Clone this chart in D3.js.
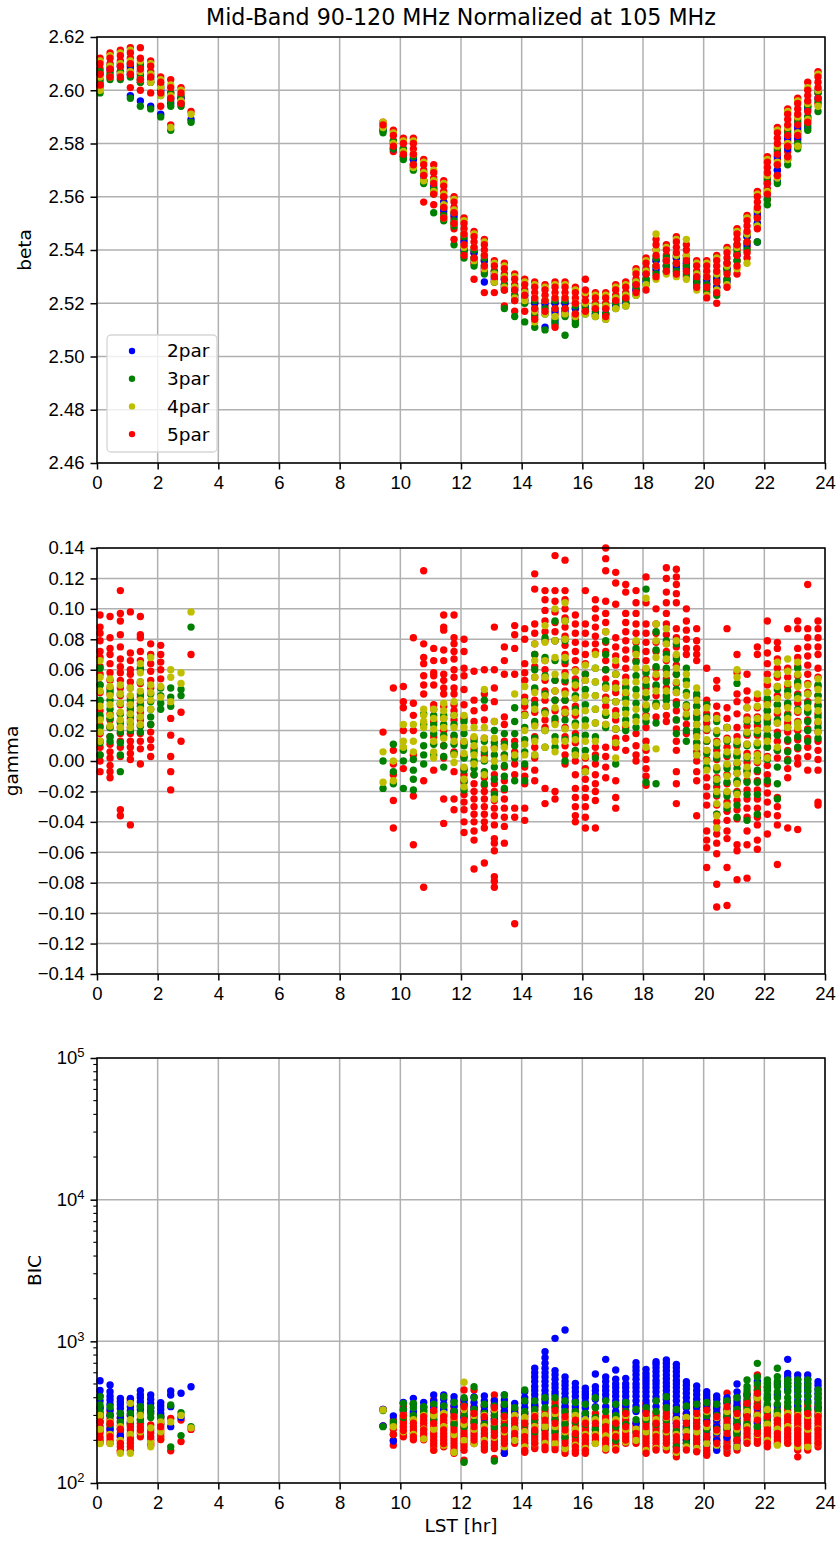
<!DOCTYPE html>
<html lang="en">
<head>
    <meta charset="UTF-8">
    <title>Mid-Band 90-120 MHz Normalized at 105 MHz</title>
    <script src="https://d3js.org/d3.v7.min.js"></script>
    <style>
        body { margin: 0; background: #fff; }
        svg { font-family: "DejaVu Sans", sans-serif; }
        .tick text { font-size: 18.5px; fill: #000; }
        .tick line { stroke: #000; stroke-width: 1.5px; }
        .grid line { stroke: #b0b0b0; stroke-width: 1.5px; }
    </style>
</head>
<body>
<svg id="chart" width="839" height="1547"></svg>
<script>
// LST of each column of points (hr)
const lst = [0.10,0.43,0.77,1.10,1.43,1.77,2.10,2.43,2.77,3.10,
    9.43,9.77,10.10,10.43,10.77,11.10,11.43,11.77,12.10,12.43,12.77,13.10,13.43,13.77,
    14.10,14.43,14.77,15.10,15.43,15.77,16.10,16.43,16.77,17.10,17.43,17.77,18.10,18.43,
    18.77,19.10,19.43,19.77,20.10,20.43,20.77,21.10,21.43,21.77,22.10,22.43,22.77,23.10,23.43,23.77];

const seriesNames = ["2par", "3par", "4par", "5par"];
const xTicks = [0, 2, 4, 6, 8, 10, 12, 14, 16, 18, 20, 22, 24];
const betaTicks = [2.46, 2.48, 2.50, 2.52, 2.54, 2.56, 2.58, 2.60, 2.62];
const gammaTicks = [-0.14, -0.12, -0.10, -0.08, -0.06, -0.04, -0.02, 0.00, 0.02, 0.04, 0.06, 0.08, 0.10, 0.12, 0.14];
const bicTicks = [1e2, 1e3, 1e4, 1e5];

// beta, one list per column
const betaB = [[2.606,2.602],[2.608,2.605],[2.609,2.606],[2.609,2.606,2.598],[2.607,2.604,2.596],[2.605,2.594],[2.600,2.591],[2.597,2.595],[2.597,2.595],[2.589],
    [2.585],[2.580,2.578],[2.577,2.575],[2.574,2.571],[2.568,2.566],[2.564,2.562],[2.558,2.555],[2.553,2.550],[2.543,2.540],[2.539,2.536],
    [2.536,2.533,2.528],[2.531,2.529],[2.529,2.526],[2.525,2.522],[2.523,2.521],[2.520,2.517],[2.520,2.511],[2.520,2.517,2.513],[2.520,2.517],[2.518,2.515],
    [2.519,2.517],[2.518,2.516],[2.518,2.516],[2.521,2.519],[2.522,2.520],[2.527,2.525],[2.531,2.528],[2.536,2.533],[2.536,2.534],[2.537,2.534],
    [2.535,2.533],[2.530,2.528],[2.529,2.527],[2.529,2.526],[2.533,2.528],[2.541,2.538],[2.545,2.542],[2.553,2.550,2.543],[2.565,2.561],[2.575,2.570,2.566],
    [2.582,2.578,2.574],[2.586,2.582,2.579],[2.593,2.589,2.586],[2.600,2.597]];
const betaG = [[2.607,2.603,2.599],[2.609,2.606,2.604],[2.610,2.607,2.604],[2.610,2.607,2.605,2.597],[2.609,2.605,2.603,2.594],[2.606,2.604,2.603,2.593],[2.602,2.599,2.598,2.590],[2.599,2.596,2.594,2.585],[2.598,2.595,2.594],[2.588],
    [2.585,2.584],[2.581,2.578],[2.578,2.575,2.574],[2.575,2.572,2.570],[2.569,2.566,2.565],[2.566,2.563,2.561,2.554],[2.560,2.556,2.553,2.551],[2.554,2.551,2.549,2.542],[2.545,2.541,2.539,2.537],[2.540,2.537,2.534],
    [2.537,2.534,2.531],[2.532,2.530,2.528],[2.530,2.527,2.525,2.518],[2.526,2.523,2.521,2.515],[2.524,2.522,2.520,2.513],[2.521,2.518,2.515,2.511],[2.521,2.518,2.516,2.510],[2.521,2.518,2.514,2.512],[2.521,2.518,2.515,2.508],[2.519,2.516,2.513,2.512],
    [2.520,2.518,2.516],[2.519,2.517,2.515],[2.519,2.516,2.514],[2.522,2.520,2.518],[2.523,2.521,2.519],[2.528,2.526,2.523],[2.532,2.529,2.527],[2.537,2.534,2.531],[2.537,2.534,2.532],[2.538,2.535,2.532],
    [2.537,2.534,2.531],[2.531,2.529,2.527],[2.530,2.527,2.525],[2.531,2.528,2.523],[2.535,2.532,2.529],[2.542,2.539,2.536],[2.546,2.543,2.540],[2.555,2.552,2.549,2.543],[2.566,2.562,2.559,2.557],[2.577,2.572,2.568,2.565],
    [2.584,2.579,2.575,2.572],[2.588,2.584,2.580,2.578],[2.594,2.590,2.587,2.585],[2.599,2.596,2.592]];
const betaY = [[2.611,2.605,2.600],[2.613,2.609,2.605],[2.614,2.610,2.606],[2.615,2.611,2.607],[2.611,2.607,2.604],[2.610,2.606,2.603],[2.604,2.601,2.598],[2.602,2.598,2.586],[2.600,2.596],[2.591],
    [2.588,2.586],[2.584,2.580],[2.581,2.577],[2.581,2.576,2.571],[2.573,2.569,2.566],[2.570,2.566,2.562],[2.565,2.561,2.557,2.552],[2.559,2.555,2.550],[2.551,2.546,2.541],[2.546,2.541,2.536],
    [2.543,2.538,2.533],[2.535,2.531,2.528],[2.534,2.530,2.526],[2.530,2.526,2.522],[2.528,2.524,2.521],[2.527,2.522,2.517,2.513],[2.526,2.521,2.516],[2.527,2.522,2.515],[2.527,2.522,2.516],[2.525,2.520,2.515],
    [2.524,2.520,2.516],[2.523,2.519,2.515],[2.523,2.519,2.514],[2.526,2.522,2.518],[2.527,2.523,2.519],[2.532,2.528,2.523],[2.536,2.532,2.527],[2.546,2.540,2.534,2.529],[2.541,2.536,2.531],[2.544,2.538,2.530],
    [2.544,2.538,2.529],[2.535,2.531,2.525],[2.535,2.530,2.523],[2.537,2.531,2.525],[2.540,2.534,2.527],[2.547,2.541,2.533],[2.552,2.546,2.535],[2.561,2.555,2.549],[2.574,2.568,2.562],[2.585,2.579,2.573,2.567],
    [2.592,2.586,2.580,2.574],[2.596,2.590,2.584,2.579],[2.601,2.595,2.589],[2.606,2.600,2.594]];
const betaR = [[2.612,2.610,2.608,2.606,2.604,2.602,2.601],[2.614,2.612,2.610,2.608,2.607,2.605],[2.615,2.613,2.611,2.609,2.607,2.605],[2.616,2.614,2.612,2.610,2.608,2.606,2.601],[2.616,2.612,2.610,2.608,2.606,2.604,2.603,2.600],
    [2.611,2.609,2.607,2.605,2.603,2.599],[2.605,2.603,2.601,2.599,2.594],[2.604,2.601,2.599,2.597,2.587],[2.601,2.599,2.597,2.595],[2.592],
    [2.588,2.587,2.586],[2.585,2.583,2.581,2.579,2.577],[2.582,2.580,2.578,2.576],[2.582,2.580,2.578,2.576,2.574,2.572],[2.574,2.572,2.570,2.568,2.566,2.558],
    [2.572,2.569,2.567,2.565,2.563,2.561,2.557],[2.566,2.564,2.562,2.560,2.558,2.556,2.554,2.552],[2.560,2.558,2.556,2.554,2.552,2.550,2.548,2.544],[2.552,2.550,2.548,2.546,2.544,2.542,2.540,2.538],[2.547,2.545,2.543,2.541,2.539,2.537,2.535,2.529],
    [2.544,2.542,2.540,2.538,2.536,2.534,2.532,2.524],[2.536,2.534,2.532,2.530,2.528,2.524],[2.535,2.533,2.531,2.529,2.527,2.525,2.519],[2.531,2.529,2.527,2.525,2.523,2.521,2.517],[2.529,2.527,2.525,2.523,2.521,2.517],
    [2.528,2.526,2.524,2.522,2.520,2.518,2.516,2.514],[2.527,2.525,2.523,2.521,2.519,2.517],[2.528,2.526,2.524,2.522,2.520,2.518,2.516,2.511],[2.528,2.526,2.524,2.522,2.520,2.518,2.516],[2.526,2.524,2.522,2.520,2.518,2.516,2.514],
    [2.529,2.525,2.523,2.521,2.519,2.517],[2.524,2.522,2.520,2.518,2.516],[2.524,2.522,2.520,2.518,2.516,2.515],[2.527,2.525,2.523,2.521,2.519],[2.528,2.526,2.524,2.522,2.520],
    [2.533,2.531,2.529,2.527,2.525,2.524],[2.537,2.535,2.533,2.531,2.529,2.525],[2.544,2.542,2.540,2.538,2.536,2.534,2.532,2.530],[2.542,2.540,2.538,2.536,2.534,2.532],[2.545,2.543,2.541,2.539,2.537,2.535,2.533,2.531],
    [2.542,2.540,2.538,2.536,2.534,2.532,2.530],[2.536,2.534,2.532,2.530,2.528,2.526],[2.536,2.534,2.532,2.530,2.528,2.526,2.524,2.522],[2.538,2.536,2.534,2.532,2.530,2.528,2.526,2.524,2.520],[2.541,2.539,2.537,2.535,2.533,2.531,2.529,2.526],
    [2.548,2.546,2.544,2.542,2.540,2.538,2.536,2.534,2.531],[2.553,2.551,2.549,2.547,2.545,2.543,2.541,2.539,2.537],[2.562,2.560,2.558,2.556,2.554,2.552,2.550,2.548],[2.575,2.573,2.571,2.569,2.567,2.565,2.563,2.561,2.559],[2.586,2.584,2.582,2.580,2.578,2.576,2.574,2.572,2.570,2.568],
    [2.593,2.591,2.589,2.587,2.585,2.583,2.581,2.579,2.577,2.575],[2.597,2.595,2.593,2.591,2.589,2.587,2.585,2.583,2.581],[2.603,2.600,2.598,2.596,2.594,2.592,2.590,2.588],[2.607,2.605,2.603,2.601,2.599,2.597,2.595]];

// gamma (no 2par)
const gammaG = [[0.061,0.050,0.040,0.030,0.022,0.012,0.004],[0.046,0.040,0.034,0.028,0.022,0.016,0.013],[0.044,0.038,0.031,0.025,0.019,0.012,0.004,-0.007],[0.040,0.035,0.030,0.025,0.020],[0.061,0.052,0.044,0.036,0.029,0.023,0.019],
    [0.044,0.039,0.034,0.029,0.024],[0.048,0.043,0.038,0.034],[0.048,0.042,0.036],[0.047,0.043],[0.088],
    [0.000,-0.018],[0.011,-0.007,-0.015],[0.007,0.000,-0.018],[0.001,-0.006,-0.012,-0.019],[0.031,0.024,0.017,0.010,0.004,-0.002],
    [0.030,0.024,0.018,0.011,0.004],[0.030,0.024,0.017,0.010,0.003,-0.004],[0.030,0.024,0.017,0.011,0.005],[0.026,0.018,0.010,0.002,-0.006,-0.013,-0.019],[0.013,0.006,0.000,-0.005,-0.009],
    [0.040,0.013,0.006,0.000,-0.007,-0.015],[0.020,0.012,0.004,-0.004,-0.012,-0.022],[0.018,0.011,0.004,-0.003,-0.010,-0.018],[0.035,0.026,0.018,0.010,0.002,-0.013],[0.039,0.030,0.022,0.014,0.006,-0.002,-0.013],
    [0.070,0.060,0.048,0.037,0.026,0.015,0.004],[0.081,0.068,0.056,0.044,0.032,0.020,0.009],[0.092,0.079,0.066,0.053,0.040,0.028,0.016,0.009],[0.092,0.079,0.066,0.053,0.040,0.027,0.014,0.000],[0.052,0.043,0.034,0.025,0.016,0.007,0.004],
    [0.057,0.047,0.037,0.027,0.017,0.007,-0.007],[0.061,0.052,0.043,0.034,0.025,0.016,0.002],[0.079,0.070,0.060,0.050,0.040,0.030,0.022],[0.057,0.048,0.039,0.030,0.021,0.012,-0.002],[0.048,0.041,0.034,0.027,0.020],
    [0.074,0.065,0.056,0.047,0.038,0.029,0.022],[0.113,0.058,0.050,0.042,0.034,0.026,-0.014],[0.085,0.073,0.062,0.050,0.038,0.025,-0.015],[0.079,0.070,0.061,0.052,0.043,0.040],[0.077,0.067,0.057,0.047,0.037,0.027,0.018],
    [0.061,0.053,0.045,0.037,0.029,0.020,0.013],[0.044,0.036,0.028,0.020,0.012,0.004],[0.037,0.029,0.021,0.013,0.005,-0.004],[0.026,0.018,0.010,0.002,-0.006,-0.014,-0.022,-0.035],[0.022,0.013,0.004,-0.005,-0.014,-0.023,-0.031],
    [0.051,0.011,0.003,-0.005,-0.013,-0.021,-0.029,-0.037],[0.026,0.018,0.010,0.002,-0.006,-0.014,-0.022,-0.039],[0.026,0.018,0.010,0.002,-0.006,-0.014,-0.022,-0.035],[0.041,0.033,0.025,0.017,0.009,0.001,-0.013],[0.057,0.047,0.037,0.027,0.017,0.007,-0.004,-0.015,-0.025],
    [0.046,0.038,0.030,0.022,0.014,0.006,0.000],[0.061,0.052,0.043,0.034,0.025,0.016,0.009],[0.044,0.038,0.032,0.026,0.020,0.013],[0.050,0.043,0.036,0.029,0.022,0.015]];
const gammaY = [[0.066,0.055,0.046,0.036,0.027,0.019,0.013],[0.054,0.049,0.043,0.037,0.030,0.023],[0.050,0.044,0.038,0.032,0.027,0.022],[0.048,0.043,0.037,0.031,0.026,0.022],[0.064,0.058,0.052,0.046,0.040,0.034,0.029,0.024],
    [0.068,0.050,0.045,0.040,0.034],[0.049,0.042],[0.060,0.055,0.039],[0.058,0.051],[0.098],
    [0.006,-0.014],[0.000,-0.013],[0.024,0.013,0.009],[0.024,0.013,0.006],[0.034,0.030,0.026,0.022],
    [0.034,0.028,0.021,0.013,0.006,0.002],[0.038,0.033,0.028,0.022,0.015],[0.039,0.030,0.022,0.013,0.004,-0.001],[0.030,0.022,0.013,0.005,-0.004,-0.012,-0.017],[0.022,0.016,0.010,0.004,-0.002],
    [0.047,0.022,0.015,0.008,0.001,-0.009],[0.026,0.015,0.008,0.000,-0.025],[0.009,0.002],[0.044,0.004],[0.049,0.039,0.030,0.020,0.011,0.004],
    [0.077,0.066,0.055,0.045,0.034,0.023,0.013,0.004],[0.089,0.078,0.066,0.055,0.043,0.031,0.020,0.009],[0.100,0.079,0.068,0.057,0.046,0.035,0.024,0.013,0.006],[0.104,0.092,0.080,0.068,0.056,0.044,0.032,0.021,0.013],[0.059,0.050,0.041,0.032,0.023,0.014,0.004],
    [0.063,0.053,0.043,0.033,0.023,0.013,0.003,-0.007],[0.070,0.061,0.052,0.043,0.034,0.025,0.013],[0.085,0.048,0.040,0.032,0.024],[0.066,0.057,0.048,0.039,0.030,0.021,0.012,0.002],[0.052,0.045,0.038,0.031,0.024],
    [0.079,0.070,0.061,0.052,0.043,0.034,0.026],[0.107,0.061,0.053,0.045,0.037,0.029,0.009],[0.090,0.079,0.068,0.057,0.046,0.036,0.008],[0.087,0.077,0.067,0.057,0.046,0.036],[0.079,0.070,0.061,0.052,0.045],
    [0.057,0.050,0.043,0.036,0.031],[0.048,0.040,0.032,0.024,0.016,0.009,0.004],[0.035,0.028,0.021,0.014,0.007,0.000,-0.006],[0.028,0.020,0.012,0.004,-0.004,-0.012,-0.020,-0.028,-0.036,-0.044],[0.022,0.014,0.006,-0.002,-0.010,-0.020,-0.029],
    [0.060,0.055,0.013,0.006,-0.001,-0.008,-0.015,-0.022],[0.035,0.027,0.019,0.011,0.003,-0.004,-0.009],[0.044,0.036,0.028,0.020,0.012,0.004,0.000],[0.053,0.045,0.037,0.029,0.021,0.013,0.002],[0.065,0.057,0.049,0.041,0.033,0.025,0.009],
    [0.067,0.059,0.051,0.043,0.035,0.028,0.022],[0.065,0.057,0.049,0.041,0.033,0.025,0.022],[0.050,0.044,0.035],[0.054,0.047,0.040,0.033,0.026,0.019]];
const gammaR = [[0.096,0.088,0.084,0.079,0.072,0.068,0.062,0.057,0.050,0.045,0.039,0.033,0.028,0.023,0.018,0.013,0.009,0.004,0.000,-0.007],
    [0.095,0.081,0.074,0.070,0.064,0.058,0.053,0.048,0.044,0.031,0.027,0.022,0.016,0.011,0.006,0.002,-0.003,-0.007,-0.011],
    [0.112,0.097,0.092,0.083,0.075,0.067,0.062,0.058,0.053,0.048,0.043,0.037,0.031,0.026,0.022,0.018,0.013,0.009,0.003,-0.032,-0.036],
    [0.098,0.071,0.066,0.060,0.057,0.052,0.048,0.042,0.037,0.033,0.028,0.022,0.018,0.013,0.009,0.005,0.001,-0.042],
    [0.095,0.083,0.081,0.072,0.066,0.060,0.051,0.042,0.038,0.032,0.027,0.023,0.018,0.013,0.008,-0.002],
    [0.077,0.070,0.064,0.059,0.053,0.048,0.024,0.019,0.014,0.009,0.003],
    [0.076,0.070,0.065,0.060,0.054],
    [0.028,0.017,0.003,-0.007,-0.019],
    [0.032,0.013],
    [0.070],
    [0.019],
    [0.048,0.007,-0.002,-0.009,-0.026,-0.044],
    [0.049,0.039,0.035,0.020,-0.005],
    [0.081,0.038,0.030,0.020,0.004,-0.023,-0.055],
    [0.125,0.077,0.068,0.064,0.056,0.050,0.044,-0.013,-0.083],
    [0.074,0.066,0.058,0.056,0.050,0.037,0.034,0.026,0.016,-0.006],
    [0.096,0.088,0.086,0.073,0.066,0.057,0.053,0.048,0.044,0.036,0.028,0.020,0.010,0.002,-0.025,-0.041],
    [0.096,0.081,0.077,0.072,0.067,0.060,0.055,0.048,0.044,0.037,0.033,0.027,0.016,0.006,-0.007,-0.025,-0.032],
    [0.080,0.072,0.061,0.056,0.047,0.037,0.028,0.012,0.003,-0.005,-0.009,-0.014,-0.022,-0.027,-0.032,-0.040,-0.047],
    [0.059,0.040,0.033,0.026,0.015,0.008,-0.009,-0.015,-0.020,-0.025,-0.030,-0.035,-0.040,-0.046,-0.052,-0.071],
    [0.060,0.044,0.035,0.027,0.015,0.004,-0.011,-0.016,-0.020,-0.025,-0.030,-0.035,-0.040,-0.044,-0.067],
    [0.088,0.060,0.048,0.039,0.026,0.009,-0.009,-0.015,-0.020,-0.026,-0.031,-0.036,-0.042,-0.051,-0.054,-0.059,-0.076,-0.079,-0.083],
    [0.075,0.066,0.057,0.029,0.024,0.013,0.004,-0.004,-0.013,-0.019,-0.025,-0.031,-0.037,-0.043,-0.054],
    [0.089,0.083,0.074,0.057,0.013,0.006,-0.002,-0.009,-0.031,-0.037,-0.107],
    [0.087,0.080,0.064,0.058,0.053,0.042,0.036,0.031,-0.004,-0.010,-0.015,-0.031,-0.039],
    [0.123,0.113,0.090,0.084,0.077,0.070,0.062,0.055,0.047,0.040,0.032,0.024,0.016,0.009,0.002,-0.006,-0.013],
    [0.112,0.106,0.099,0.092,0.085,0.079,0.066,0.060,0.053,0.046,0.040,0.033,0.027,0.022,-0.018,-0.028],
    [0.135,0.112,0.105,0.098,0.091,0.085,0.079,0.053,0.046,0.040,0.033,0.026,-0.020,-0.025],
    [0.132,0.112,0.106,0.100,0.094,0.088,0.082,0.076,0.070,0.064,0.058,0.052,0.046,0.040,0.034,0.031,0.022,0.016,0.010,0.004,-0.002],
    [0.096,0.090,0.084,0.078,0.072,0.066,0.060,0.054,0.048,0.042,0.036,0.030,0.024,0.018,0.012,0.006,0.000,-0.009,-0.018,-0.024,-0.030,-0.036,-0.040],
    [0.112,0.090,0.084,0.077,0.070,0.064,0.057,0.053,0.002,-0.005,-0.012,-0.018,-0.024,-0.030,-0.037,-0.044],
    [0.106,0.100,0.094,0.088,0.082,0.077,0.072,0.009,0.004,-0.002,-0.009,-0.015,-0.020,-0.026,-0.044],
    [0.140,0.133,0.125,0.105,0.097,0.091,0.085,0.078,0.072,0.066,0.060,0.054,0.048,0.042,0.036,0.030,0.024,0.009,0.003,-0.004,-0.011],
    [0.124,0.117,0.103,0.081,0.075,0.069,0.063,0.057,0.051,0.045,0.039,0.033,0.027,0.021,0.015,0.009,-0.013,-0.024,-0.031],
    [0.116,0.111,0.097,0.091,0.085,0.079,0.073,0.067,0.061,0.055,0.049,0.044,0.022,0.015,0.007],
    [0.112,0.104,0.097,0.090,0.084,0.078,0.072,0.066,0.018,0.010,0.004,0.000],
    [0.121,0.104,0.090,0.084,0.078,0.072,0.066,0.060,0.054,0.048,0.042,0.036,0.030,0.022,0.013,0.007,0.001,-0.005,-0.010,-0.016],
    [0.100,0.090,0.084,0.078,0.072,0.061,0.055,0.049,0.043,0.037,0.029],
    [0.127,0.120,0.111,0.104,0.097,0.090,0.083,0.077,0.072,0.066,0.060,0.054,0.048,0.042,0.036,0.030,0.026],
    [0.126,0.121,0.116,0.110,0.104,0.087,0.081,0.075,0.069,0.063,0.057,0.051,0.045,0.039,0.033,0.027,0.021,0.013,0.007,-0.007,-0.015,-0.028],
    [0.100,0.092,0.086,0.080,0.074,0.070,0.035,0.029,0.024,0.018],
    [0.087,0.079,0.074,0.070,0.066,0.042,0.036,0.030,0.024,0.018,0.012,0.006,0.000,-0.007,-0.013,-0.036],
    [0.061,0.040,0.037,0.031,0.025,0.020,0.013,0.007,0.001,-0.005,-0.011,-0.017,-0.023,-0.029,-0.046,-0.052,-0.057,-0.070],
    [0.053,0.048,0.036,0.030,0.013,0.007,0.001,-0.005,-0.011,-0.017,-0.023,-0.029,-0.035,-0.040,-0.044,-0.048,-0.054,-0.061,-0.081,-0.096],
    [0.087,0.035,0.028,0.022,0.015,0.009,0.003,-0.003,-0.009,-0.015,-0.021,-0.027,-0.033,-0.039,-0.046,-0.051,-0.070,-0.095],
    [0.070,0.058,0.044,0.039,0.031,0.022,0.016,0.010,0.004,-0.002,-0.008,-0.014,-0.020,-0.026,-0.032,-0.038,-0.055,-0.059,-0.078],
    [0.057,0.046,0.040,0.035,0.029,0.023,0.017,0.011,0.005,-0.001,-0.007,-0.013,-0.019,-0.025,-0.031,-0.037,-0.046,-0.055,-0.077],
    [0.075,0.070,0.041,0.035,0.029,0.023,0.017,0.011,0.005,-0.001,-0.007,-0.013,-0.019,-0.025,-0.031,-0.037,-0.042,-0.052,-0.058],
    [0.092,0.079,0.071,0.064,0.057,0.050,0.039,0.033,0.027,0.021,0.015,0.009,0.003,-0.003,-0.009,-0.015,-0.021,-0.027,-0.035,-0.048],
    [0.078,0.074,0.067,0.061,0.055,0.049,0.043,0.037,0.031,0.025,0.019,0.013,0.007,0.002,-0.024,-0.030,-0.036,-0.042,-0.068],
    [0.087,0.061,0.055,0.049,0.043,0.037,0.031,0.025,0.019,0.013,0.007,0.001,-0.005,-0.011,-0.044],
    [0.092,0.087,0.074,0.068,0.062,0.056,0.050,0.044,0.038,0.032,0.026,0.020,0.014,0.008,0.002,-0.002,-0.045],
    [0.116,0.087,0.081,0.075,0.069,0.063,0.057,0.051,0.045,0.039,0.033,0.027,0.021,0.015,0.009,0.003,-0.006],
    [0.092,0.087,0.081,0.075,0.070,0.061,0.055,0.049,0.043,0.037,0.031,0.025,0.019,0.013,0.007,0.001,-0.006,-0.027,-0.029]];

// BIC
const bicB = [[527,450,410,380,340,300,270],[492,441,410,385,360,330,300,240],[396,375,355,335,310,290,240,215],[396,370,345,325,300,270],[449,420,400,375,350,330],
    [418,390,365,340,320],[369,350,330,310,294],[446,418,346,250],[430,290],[478],
    [331,253],[297,198],[370,330],[396,360,320],[370,340],[418,380,340],[418,390,360,330],[406,380,350,320],[385,355,325,290],[405,370,340,300],
    [411,380,350,320,290],[380,350,320,280],[418,385,350,320,162],[365,340,315,290],[441,400,370,340,310],
    [645,600,560,520,480,450,420,390,360,346],[845,765,700,645,600,560,520,485,450,420,390,370],[1050,620,580,540,500,470,440,420],[1202,560,520,490,460,430,400,370,346],[505,470,440,410,380,346],
    [466,440,420,400,370,340,310,294],[588,479,450,420,390,346],[746,560,520,480,450,420,390,346],[627,540,500,470,440,410,380,350,320,294,264],[548,500,470,440,410,380,350,310],
    [706,660,620,580,540,500,470,440,410,380,350,320,264],[634,594,560,530,500,470,440,410,380,350,320,290],[718,690,650,610,570,530,500,470,440,406,380,346],[738,700,660,620,580,545,510,480,450,420,390,365],[688,650,610,570,530,500,470,440,410,380,350,320,290,264],
    [519,490,460,430,400,370,340,310,280,250,220,201],[484,450,420,390,365,346],[441,420,400,380,360,330,300,270,240,210,190],[411,390,365,340,310,280,250,225,200,180,170],[400,370,330,290,250,210,180],
    [500,440,406,380,350,320,290,260,230,200,180],[420,360,300,250],[520,420,340,270],[470,400,340,290],[500,420,350,300],
    [746,594,562,533,505,479,453],[578,540,505,470,440,410,380,350],[578,540,505,470,440,410,380],[519,490,460,430,400,370,340,300]];
const bicG = [[406,355,320,290],[345,300,260],[310,270],[310,260],[345,310,280],[340,310,290],[290,260],[355,180],[313,216],[250],
    [325,250],[270,220],[365,330,290],[365,340,300],[345,320],[360,320,280],[406,350,300],[370,320,260],[400,350,300,250,140],[478,400,330,270],
    [360,310,260],[350,300,250,143],[418,360,300,250],[340,290,240],[453,380,320,260],
    [380,330,280,230],[400,340,290,240],[400,340,280,230],[380,320,260,210],[370,320,270,220],
    [360,310,260],[400,340,290,240],[380,320,260],[360,300,250,200],[370,320,260],
    [330,280,230],[340,280,230],[380,320,260],[406,340,280,230],[330,280,230,180],
    [350,290,240,190],[360,300,250],[370,300,240],[360,300,240],[380,300,240],
    [400,330,270,220],[533,480,453,420,380,340,300,260],[699,560,500,450,400,350,300,250],[533,505,480,450,420,390,360,320,280],[645,562,520,480,440,400,360,320,280],
    [533,505,479,440,400,370,346],[533,490,450,410,370,330],[533,490,450,410,370,330,300],[453,420,390,360,330]];
const bicY = [[300,240,190],[270,220,190],[250,200,162],[365,280,220,162],[300,230],[245,195,180],[270,230,203],[270],[300],[245],
    [328],[250],[300,230],[280,220],[300,240,205],[300,240,170],[310,250,185],[290,220,165],[514,330,260,200],[300,240,190],
    [300,250,200],[330,270,210],[290,230,180],[300,240,200],[290,230,180],
    [300,250,190],[300,250,190],[310,250,190],[290,230,175],[300,240,185],
    [280,220,175],[280,220,190],[270,215,175],[280,220,175],[300,240,195],
    [240,200],[290,230,170],[280,220,175],[290,230,180],[280,220,165],
    [290,230,180],[300,230,175],[320,250,190],[290,230,185],[320,250,180],
    [300,240,180],[320,250,195],[400,300,220],[330,260,200],[300,240,185],
    [310,250,190],[300,240,180],[300,240,180],[300,240,190]];
const bicR = [[337,310,294,270,250,235,225,210,200,192],[318,300,280,264,250,237,224,212,201,191],[286,270,255,240,225,212,200,190,180,170,166],[385,300,264,250,237,224,212,201,191,180,170],[278,264,250,237,224,212],
    [257,237,225,212,201,191,185],[294,278,264,250,237,224,212,203],[286,169],[278,196],[239],
    [331,253],[278,260,240,220,200,185],[365,345,320,300,280,265,250,235,222,212],[310,294,280,264,250,237,224,212,202],[345,325,310,294,278,264,250,237,224,212,202],
    [385,365,345,325,310,294,278,264,250,237,224,212,200,190,180,170],[345,325,310,294,278,264,250,237,224,212,201,190,180],[345,325,310,294,278,264,250,237,224,212,201,190,180,170,162],
    [453,385,365,345,325,310,294,278,264,250,237,224,212,201,190,180,170,145],[453,345,325,310,294,278,264,250,237,224,212,201,190],
    [345,325,310,294,278,264,250,237,224,212,201,190,180,171],[418,385,360,340,320,300,285,270,255,240,228,216,205,195,185,175,149],[345,325,310,294,278,264,250,237,224,212,201,190,180,170,162],
    [327,310,294,278,264,250,237,224,212,201,191],[310,294,278,264,250,237,224,212,201,191,180,170,165],
    [346,327,310,294,278,264,250,237,224,212,201,191,180,175],[327,310,294,278,264,250,237,224,212,201,191,180,172],[385,365,345,325,310,294,278,264,250,237,224,212,201,191,180,172],
    [346,327,310,294,278,264,250,237,224,212,201,191,180,170,162],[327,310,294,278,264,250,237,224,212,201,191,180,170,162],
    [310,294,278,264,250,237,224,212,201,191,180,170,162],[310,294,278,264,250,237,224,212,201,191],[294,278,264,250,237,224,212,201,191,180,171],
    [310,294,278,264,250,237,224,212,201,191,180,171],[365,346,327,310,294,278,264,250,237,224,212,201,191],
    [264,250,237,224,212,201,191],[365,346,327,310,294,278,264,250,237,224,212,201,191,180,171,162],[310,294,278,264,250,237,224,212,201,191,180,171],
    [346,327,310,294,278,264,250,237,224,212,201,191,180,171],[310,294,278,264,250,237,224,212,201,191,180,171,162,153],
    [310,294,278,264,250,237,224,212,201,191,180,171],[365,346,327,310,294,278,264,250,237,224,212,201,191,180,170,166],
    [385,365,346,327,310,294,278,264,250,237,224,212,201,191,180,170,162,157],[346,327,310,294,278,264,250,237,224,212,201,191,180],
    [430,385,365,346,327,310,294,278,264,250,237,224,212,201,191,180,171,162],[365,346,327,310,294,278,264,250,237,224,212,201,191,180,171],
    [430,406,385,365,346,327,310,294,278,264,250,237,224,212,201,191],[578,479,453,430,406,385,365,346,327,310,294,278,264,250,237,224,212,201,191],
    [346,327,310,294,278,264,250,237,224,212,201,191,180],[327,310,294,278,264,250,237,224,212,201,191],
    [346,327,310,294,278,264,250,237,224,212,201,191],[346,327,310,294,278,264,250,237,224,212,201,191,180,171,153],
    [365,346,327,310,294,278,264,250,237,224,212,201,191,180,171],[346,327,310,294,278,264,250,237,224,212,201,191,180]];

const colors = { b: "#0000ff", g: "#008000", y: "#bfbf00", r: "#ff0000" };

const svg = d3.select("#chart");
const left = 97, right = 825;
const x = d3.scaleLinear().domain([0, 24]).range([left, right]);

// keep(k): which entries of each column go in this layer (mimics night-by-night overplotting)
function points(cols, keep) {
    const out = [];
    cols.forEach((vals, i) => vals.forEach((v, k) => {
        if (!keep || keep(k)) out.push([lst[i], v]);
    }));
    return out;
}

function drawPanel(top, bottom, y, yTicks, yFormat, layers, label, labelX) {
    const g = svg.append("g");

    // grid
    g.append("g").attr("class", "grid").selectAll("line")
        .data(xTicks).join("line")
        .attr("x1", d => x(d)).attr("x2", d => x(d))
        .attr("y1", top).attr("y2", bottom);
    g.append("g").attr("class", "grid").selectAll("line")
        .data(yTicks).join("line")
        .attr("x1", left).attr("x2", right)
        .attr("y1", d => y(d)).attr("y2", d => y(d));

    // points
    layers.forEach(l => {
        g.append("g").attr("fill", l.color).selectAll("circle")
            .data(points(l.data, l.keep)).join("circle")
            .attr("cx", d => x(d[0]))
            .attr("cy", d => y(d[1]))
            .attr("r", 3.7);
    });

    // axes
    const xa = g.append("g")
        .attr("transform", `translate(0,${bottom})`)
        .call(d3.axisBottom(x).tickValues(xTicks).tickSize(6.5).tickPadding(6).tickFormat(d3.format("d")));
    xa.select(".domain").remove();
    const ya = g.append("g")
        .attr("transform", `translate(${left},0)`)
        .call(d3.axisLeft(y).tickValues(yTicks).tickSize(6.5).tickPadding(6).tickFormat(yFormat));
    ya.select(".domain").remove();

    g.append("rect")
        .attr("x", left).attr("y", top)
        .attr("width", right - left).attr("height", bottom - top)
        .attr("fill", "none").attr("stroke", "#000").attr("stroke-width", 1.5);

    g.append("text")
        .attr("transform", `translate(${labelX},${(top + bottom) / 2}) rotate(-90)`)
        .attr("text-anchor", "middle")
        .attr("font-size", "18.5px")
        .text(label);
    return ya;
}

// title
svg.append("text")
    .attr("x", (left + right) / 2).attr("y", 25)
    .attr("text-anchor", "middle")
    .attr("font-size", "22.2px")
    .text("Mid-Band 90-120 MHz Normalized at 105 MHz");

// beta
const yBeta = d3.scaleLinear().domain([2.46, 2.62]).range([463, 37]);
drawPanel(37, 463, yBeta, betaTicks, d3.format(".2f"), [
    { color: colors.r, data: betaR, keep: k => k % 2 === 0 },
    { color: colors.b, data: betaB },
    { color: colors.g, data: betaG },
    { color: colors.y, data: betaY },
    { color: colors.r, data: betaR, keep: k => k % 2 === 1 }
], "beta", 31);

// legend
const legend = svg.append("g").attr("transform", "translate(107,335)");
legend.append("rect")
    .attr("width", 110).attr("height", 117).attr("rx", 4)
    .attr("fill", "#fff").attr("fill-opacity", 0.8)
    .attr("stroke", "#d6d6d6").attr("stroke-width", 1.3);
[colors.b, colors.g, colors.y, colors.r].forEach((c, i) => {
    legend.append("circle").attr("cx", 25).attr("cy", 16 + i * 27.7).attr("r", 3.2).attr("fill", c);
    legend.append("text").attr("x", 60).attr("y", 16 + i * 27.7)
        .attr("dy", "0.35em").attr("font-size", "18.5px").text(seriesNames[i]);
});

// gamma
const yGamma = d3.scaleLinear().domain([-0.14, 0.14]).range([974, 548]);
drawPanel(548, 974, yGamma, gammaTicks, d3.format(".2f"), [
    { color: colors.r, data: gammaR },
    { color: colors.g, data: gammaG },
    { color: colors.y, data: gammaY }
], "gamma", 18);

// BIC (log)
const yBic = d3.scaleLog().domain([1e2, 1e5]).range([1483, 1058]);
const bicAxis = drawPanel(1058, 1483, yBic, bicTicks, () => "", [
    { color: colors.r, data: bicR, keep: k => k % 4 !== 3 },
    { color: colors.b, data: bicB },
    { color: colors.g, data: bicG },
    { color: colors.y, data: bicY },
    { color: colors.r, data: bicR, keep: k => k % 4 === 3 }
], "BIC", 41);
bicAxis.selectAll(".tick text").each(function(d) {
    const t = d3.select(this);
    t.text("10");
    t.append("tspan").attr("dy", "-0.55em").attr("font-size", "13px")
        .text(Math.round(Math.log10(d)));
});
// minor ticks
const minor = [];
[1e2, 1e3, 1e4].forEach(b => [2, 3, 4, 5, 6, 7, 8, 9].forEach(m => minor.push(b * m)));
svg.append("g").selectAll("line").data(minor).join("line")
    .attr("x1", left - 3.7).attr("x2", left)
    .attr("y1", d => yBic(d)).attr("y2", d => yBic(d))
    .attr("stroke", "#000").attr("stroke-width", 1.1);

svg.append("text")
    .attr("x", (left + right) / 2).attr("y", 1532)
    .attr("text-anchor", "middle")
    .attr("font-size", "18.5px")
    .text("LST [hr]");
</script>
</body>
</html>
